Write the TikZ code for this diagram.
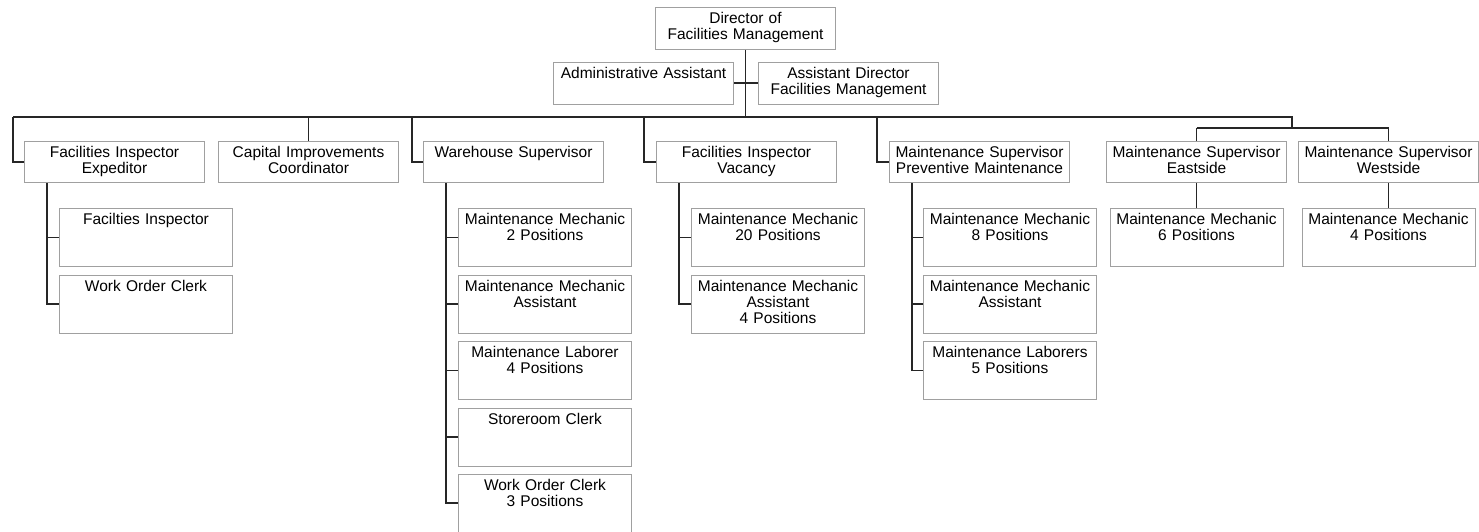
\documentclass[tikz,border=0pt]{standalone}
\usepackage{xcolor}
\usepackage{fontspec}
\setmainfont{Liberation Sans}
\usepackage{tikz}
\definecolor{boxgrey}{HTML}{A0A0A0}
\tikzset{
  box/.style={draw=boxgrey, line width=1pt, anchor=north west, align=center,
    inner xsep=2pt, inner ysep=4pt, text height=12pt,
    font=\fontsize{15.5pt}{16pt}\selectfont},
  head/.style={box, text width=176pt, text depth=22pt},
  lead/.style={box, text width=176pt, text depth=21pt},
  crew/.style={box, text width=169pt, text depth=38pt},
  link/.style={line width=1.1pt, black!85}
}

\begin{document}
\begin{tikzpicture}[x=1pt,y=-1pt]
\useasboundingbox (0,0) rectangle (1479,532);
% top of the chart
\node[head] (dir) at (655,7) {Director of\\Facilities Management};
\node[head] (adm) at (553,62) {Administrative Assistant};
\node[head] (asd) at (758,62) {Assistant Director\\Facilities Management};
% second row
\node[lead] (fie) at (24,141) {Facilities Inspector\\Expeditor};
\node[lead] (cic) at (218,141) {Capital Improvements\\Coordinator};
\node[lead] (whs) at (423,141) {Warehouse Supervisor};
\node[lead] (fiv) at (656,141) {Facilities Inspector\\Vacancy};
\node[lead] (msp) at (889,141) {Maintenance Supervisor\\Preventive Maintenance};
\node[lead] (mse) at (1106,141) {Maintenance Supervisor\\Eastside};
\node[lead] (msw) at (1298,141) {Maintenance Supervisor\\Westside};
% staff below the supervisors
\node[crew] (fie1) at (59,208) {Facilties Inspector};
\node[crew] (fie2) at (59,274.5) {Work Order Clerk};
\node[crew] (whs1) at (458,208) {Maintenance Mechanic\\2 Positions};
\node[crew] (whs2) at (458,274.5) {Maintenance Mechanic\\Assistant};
\node[crew] (whs3) at (458,341) {Maintenance Laborer\\4 Positions};
\node[crew] (whs4) at (458,407.5) {Storeroom Clerk};
\node[crew] (whs5) at (458,473.5) {Work Order Clerk\\3 Positions};
\node[crew] (fiv1) at (691,208) {Maintenance Mechanic\\20 Positions};
\node[crew] (fiv2) at (691,274.5) {Maintenance Mechanic\\Assistant\\4 Positions};
\node[crew] (msp1) at (923,208) {Maintenance Mechanic\\8 Positions};
\node[crew] (msp2) at (923,274.5) {Maintenance Mechanic\\Assistant};
\node[crew] (msp3) at (923,341) {Maintenance Laborers\\5 Positions};
\node[crew] (mse1) at (1109.5,208) {Maintenance Mechanic\\6 Positions};
\node[crew] (msw1) at (1301.5,208) {Maintenance Mechanic\\4 Positions};
% bus lines
\coordinate (busL) at (13,117);
\coordinate (busR) at (1292,117);
\coordinate (whsdrop) at (412,117);
\coordinate (fivdrop) at (644,117);
\coordinate (mspdrop) at (877,117);
\coordinate (subR) at (1292,128);
\draw[link] (dir.south) -- (dir.south |- busL);
\draw[link] (adm.east |- 0,83) -- (asd.west |- 0,83);
\draw[link] (busL) -- (busR) -- (subR);
\draw[link] (mse.north |- subR) -- (msw.north |- subR);
\draw[link] (fie.west) -| (busL);
\draw[link] (cic.north) -- (cic.north |- busL);
\draw[link] (whs.west) -| (whsdrop);
\draw[link] (fiv.west) -| (fivdrop);
\draw[link] (msp.west) -| (mspdrop);
\draw[link] (mse.north) -- (mse.north |- subR);
\draw[link] (msw.north) -- (msw.north |- subR);
% staff connectors
\draw[link] (fie1.west) -| ([xshift=23pt]fie.south west);
\draw[link] (fie2.west) -| ([xshift=23pt]fie.south west);
\draw[link] (whs1.west) -| ([xshift=23pt]whs.south west);
\draw[link] (whs2.west) -| ([xshift=23pt]whs.south west);
\draw[link] (whs3.west) -| ([xshift=23pt]whs.south west);
\draw[link] (whs4.west) -| ([xshift=23pt]whs.south west);
\draw[link] (whs5.west) -| ([xshift=23pt]whs.south west);
\draw[link] (fiv1.west) -| ([xshift=23pt]fiv.south west);
\draw[link] (fiv2.west) -| ([xshift=23pt]fiv.south west);
\draw[link] (msp1.west) -| ([xshift=23pt]msp.south west);
\draw[link] (msp2.west) -| ([xshift=23pt]msp.south west);
\draw[link] (msp3.west) -| ([xshift=23pt]msp.south west);
\draw[link] (mse1.north) -- (mse.south);
\draw[link] (msw1.north) -- (msw.south);
\end{tikzpicture}
\end{document}
